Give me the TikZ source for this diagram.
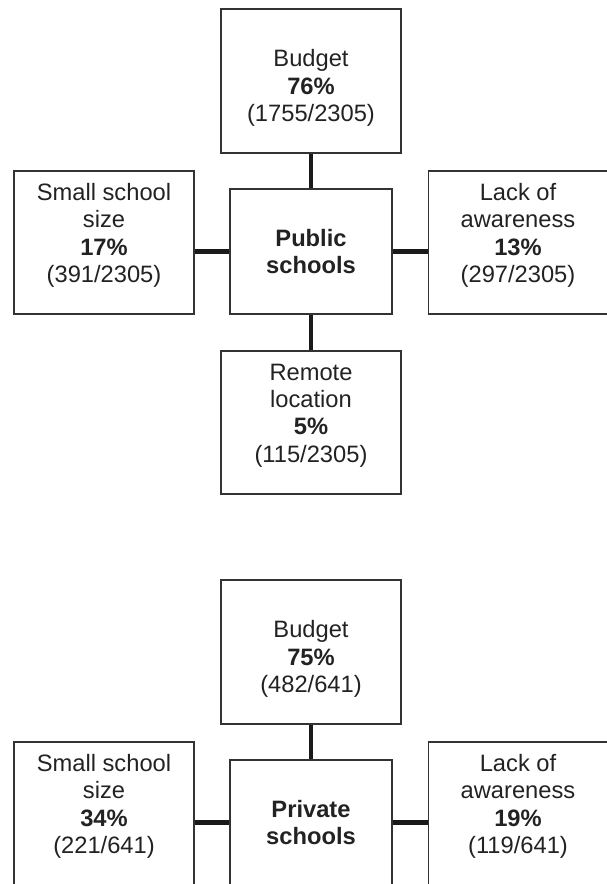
\documentclass[tikz,border=0pt]{standalone}
\usepackage{fontspec}
\setmainfont{Liberation Sans}
\definecolor{boxline}{HTML}{333333}
\definecolor{txtgray}{HTML}{222222}
\definecolor{linkgray}{HTML}{1A1A1A}
\begin{document}
\begin{tikzpicture}[x=1pt,y=-1pt,
  box/.style={draw=boxline,line width=1.1pt,minimum width=180pt,minimum height=143pt,inner sep=0pt},
  hub/.style={box,minimum width=162pt,minimum height=125pt},
  txt/.style={align=center,font=\fontsize{23.7}{27.3}\selectfont,text=txtgray,inner sep=0pt},
  link/.style={draw=linkgray,line width=4.2pt}]
\useasboundingbox (0,0) rectangle (607,884);
\clip (0,0) rectangle (607,884);
\node[box,minimum height=144pt] (budA) at (311,81) {};
\node[txt] (budAt) at ([yshift=-7pt]budA.center) {Budget\\\textbf{76\%}\\(1755/2305)};
\node[hub] (pubA) at (311,251.5) {};
\node[txt] (pubAt) at (pubA.center) {\textbf{Public}\\\textbf{schools}};
\node[box] (smallA) at (104,242.5) {};
\node[txt] (smallAt) at ([yshift=7pt]smallA.center) {Small school\\size\\\textbf{17\%}\\(391/2305)};
\node[box] (lackA) at (518.5,242.5) {};
\node[txt] (lackAt) at ([yshift=7pt,xshift=-0.5pt]lackA.center) {Lack of\\awareness\\\textbf{13\%}\\(297/2305)};
\node[box] (remA) at (311,422.5) {};
\node[txt] (remAt) at ([yshift=7pt]remA.center) {Remote\\location\\\textbf{5\%}\\(115/2305)};
\draw[link] (budA.south) -- (pubA.north);
\draw[link] (pubA.south) -- (remA.north);
\draw[link] (smallA.east |- pubA.west) -- (pubA.west);
\draw[link] (pubA.east) -- (lackA.west |- pubA.east);
\node[box,minimum height=144pt] (budB) at (311,652) {};
\node[txt] (budBt) at ([yshift=-7pt]budB.center) {Budget\\\textbf{75\%}\\(482/641)};
\node[hub] (pubB) at (311,822.5) {};
\node[txt] (pubBt) at (pubB.center) {\textbf{Private}\\\textbf{schools}};
\node[box] (smallB) at (104,813.5) {};
\node[txt] (smallBt) at ([yshift=7pt]smallB.center) {Small school\\size\\\textbf{34\%}\\(221/641)};
\node[box] (lackB) at (518.5,813.5) {};
\node[txt] (lackBt) at ([yshift=7pt,xshift=-0.5pt]lackB.center) {Lack of\\awareness\\\textbf{19\%}\\(119/641)};
\draw[link] (budB.south) -- (pubB.north);
\draw[link] (smallB.east |- pubB.west) -- (pubB.west);
\draw[link] (pubB.east) -- (lackB.west |- pubB.east);
\end{tikzpicture}
\end{document}
